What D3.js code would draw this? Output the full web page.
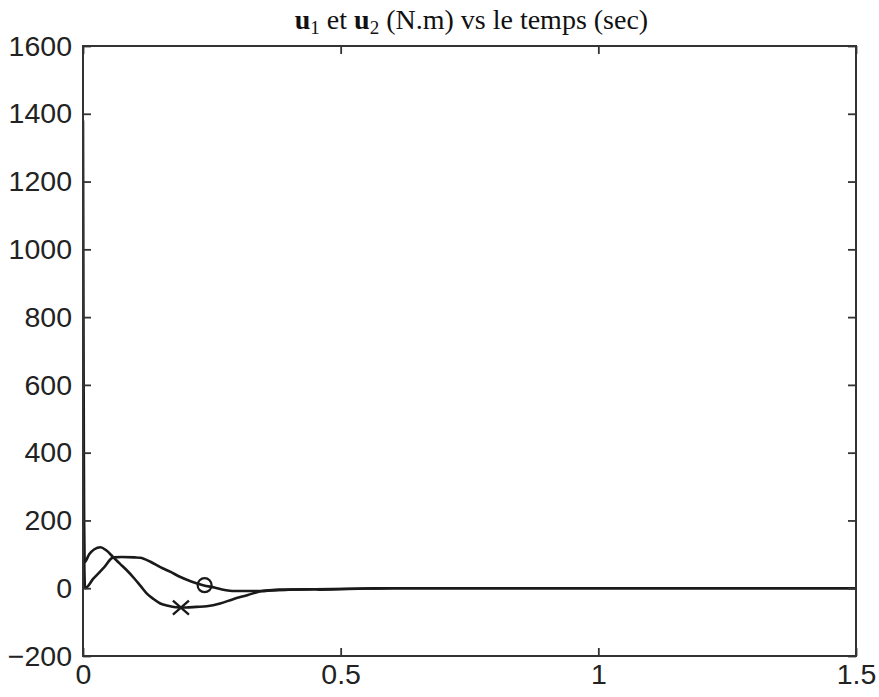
<!DOCTYPE html>
<html>
<head>
<meta charset="utf-8">
<script src="https://cdn.jsdelivr.net/npm/d3@7"></script>
<style>
  body { margin: 0; background: #fff; }
  svg { display: block; }
</style>
</head>
<body>
<div id="chart"></div>
<script>
// u1 (marqueur x) et u2 (marqueur o)
var tU1 = [0, 0.003, 0.012, 0.022, 0.034, 0.045, 0.059, 0.072, 0.085, 0.1, 0.112, 0.124, 0.137, 0.15, 0.165, 0.18, 0.2, 0.22, 0.24, 0.266, 0.29, 0.32, 0.345, 0.38, 0.45, 0.55, 0.6, 1.5];
var u1 = [1380, 77, 100, 115, 121, 112, 91, 72, 53, 28, 6, -16, -32, -45, -52, -56, -57, -55, -53, -45, -33, -20, -9, -5, -3, -1, 0, 0];

var tU2 = [0, 0.004, 0.02, 0.04, 0.059, 0.075, 0.1, 0.111, 0.131, 0.15, 0.17, 0.189, 0.21, 0.233, 0.255, 0.275, 0.29, 0.345, 0.38, 0.45, 0.46, 0.55, 0.6, 1.5];
var u2 = [380, 0, 28, 60, 91, 92, 91, 90, 78, 62, 48, 33, 20, 9, 2, -5, -8, -8, -5, -3, -4, -1, 0, 0];

// un seul marqueur par courbe
var markU1 = [0.19, -57];
var markU2 = [0.236, 9];

var xTicks = [0, 0.5, 1, 1.5];
var yTicks = [-200, 0, 200, 400, 600, 800, 1000, 1200, 1400, 1600];

var width = 879, height = 697;
var margin = {left: 83, right: 23, top: 46, bottom: 41};
var iw = width - margin.left - margin.right,
    ih = height - margin.top - margin.bottom;

var svg = d3.select('#chart').append('svg')
  .attr('width', width)
  .attr('height', height);

var x = d3.scaleLinear().domain([0, 1.5]).range([0, iw]);
var y = d3.scaleLinear().domain([-200, 1600]).range([ih, 0]);

var g = svg.append('g')
  .attr('transform', 'translate(' + margin.left + ',' + margin.top + ')');

var defs = svg.append('defs');
defs.append('clipPath').attr('id', 'clip')
  .append('rect').attr('width', iw).attr('height', ih);

// courbes
var line = d3.line()
  .curve(d3.curveMonotoneX)
  .x(function(d){ return x(d[0]); })
  .y(function(d){ return y(d[1]); });

var plot = g.append('g').attr('clip-path', 'url(#clip)');

plot.append('path')
  .datum(d3.zip(tU1, u1))
  .attr('d', line)
  .attr('fill', 'none')
  .attr('stroke', '#1a1a1a')
  .attr('stroke-width', 2.6);

plot.append('path')
  .datum(d3.zip(tU2, u2))
  .attr('d', line)
  .attr('fill', 'none')
  .attr('stroke', '#1a1a1a')
  .attr('stroke-width', 2.6);

// marqueurs
var mx = x(markU1[0]), my = y(markU1[1]);
g.append('path')
  .attr('d', 'M' + (mx-8) + ',' + (my-7) + 'L' + (mx+8) + ',' + (my+7) +
             'M' + (mx-8) + ',' + (my+7) + 'L' + (mx+8) + ',' + (my-7))
  .attr('stroke', '#1a1a1a')
  .attr('stroke-width', 2.4);

g.append('circle')
  .attr('cx', x(markU2[0]))
  .attr('cy', y(markU2[1]))
  .attr('r', 7)
  .attr('fill', 'none')
  .attr('stroke', '#1a1a1a')
  .attr('stroke-width', 2.2);

// axes, ticks vers l'intérieur
var tickLen = 8;
var font = 'Liberation Sans, Arial, sans-serif';

var xAxis = d3.axisBottom(x).tickValues(xTicks).tickSize(-tickLen).tickPadding(8)
  .tickFormat(d3.format('~g'));
var yAxis = d3.axisLeft(y).tickValues(yTicks).tickSize(-tickLen).tickPadding(11)
  .tickFormat(d3.format('d'));

var xg = g.append('g').attr('transform', 'translate(0,' + ih + ')').call(xAxis);
var yg = g.append('g').call(yAxis);

var xTop = g.append('g').call(d3.axisTop(x).tickValues(xTicks).tickSize(-tickLen).tickFormat(''));
var yRight = g.append('g').attr('transform', 'translate(' + iw + ',0)')
  .call(d3.axisRight(y).tickValues(yTicks).tickSize(-tickLen).tickFormat(''));

[xg, yg, xTop, yRight].forEach(function(a){
  a.select('.domain').remove();
  a.selectAll('.tick line').attr('stroke', '#333').attr('stroke-width', 1.8);
  a.selectAll('.tick text')
    .attr('fill', '#222')
    .style('font-family', font)
    .style('font-size', '28.5px');
});
xg.selectAll('.tick text').attr('dy', '0.71em');

g.append('rect')
  .attr('width', iw).attr('height', ih)
  .attr('fill', 'none')
  .attr('stroke', '#333')
  .attr('stroke-width', 2);

// titre
var title = svg.append('text')
  .attr('x', margin.left + iw / 2 + 2)
  .attr('y', 29)
  .attr('text-anchor', 'middle')
  .style('font-family', 'Liberation Serif, Times New Roman, serif')
  .style('font-size', '28px')
  .attr('fill', '#111');

title.append('tspan').attr('font-weight', 'bold').text('u');
title.append('tspan').attr('dy', 5).style('font-size', '19px').text('1');
title.append('tspan').attr('dy', -5).text(' et ');
title.append('tspan').attr('font-weight', 'bold').text('u');
title.append('tspan').attr('dy', 5).style('font-size', '19px').text('2');
title.append('tspan').attr('dy', -5).text(' (N.m) vs le temps (sec)');
</script>
</body>
</html>
